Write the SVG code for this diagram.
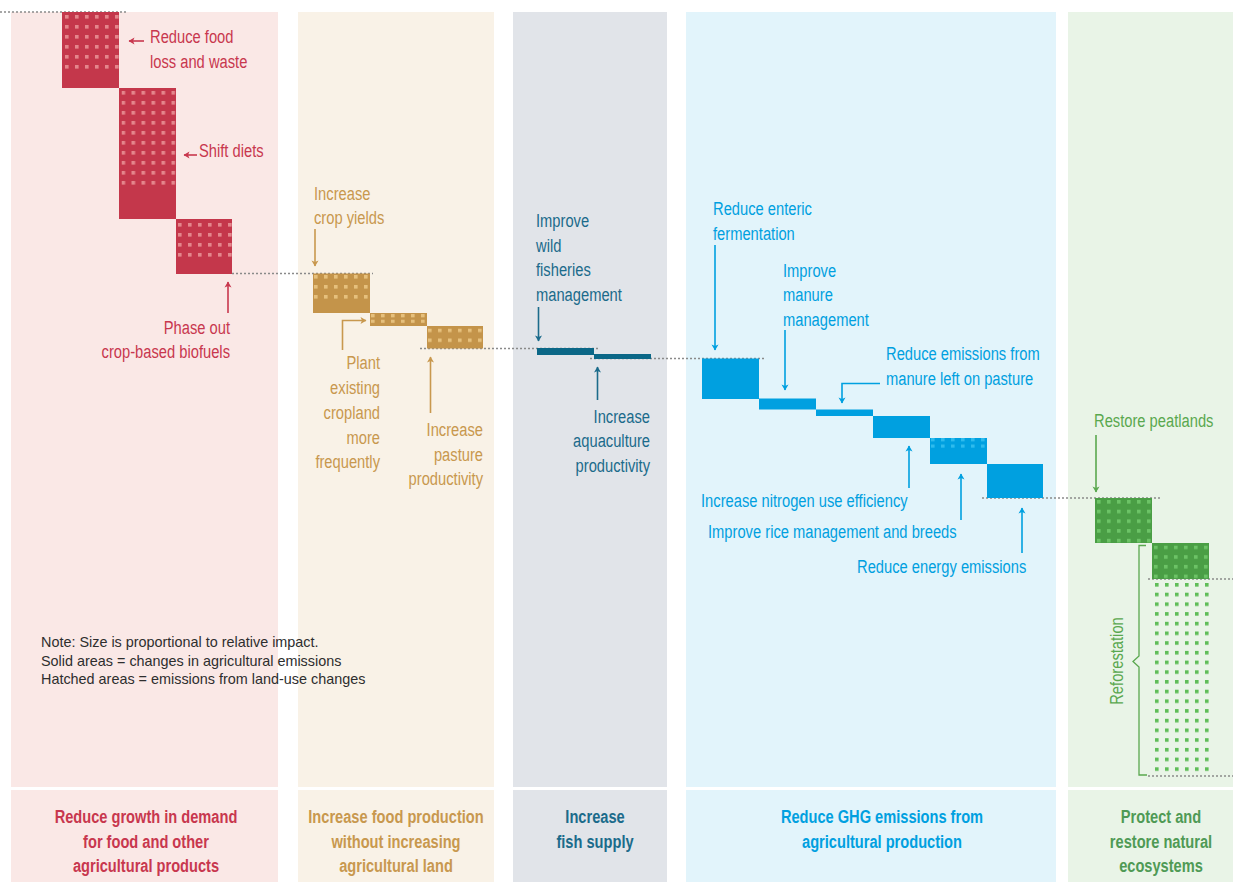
<svg xmlns="http://www.w3.org/2000/svg" width="1233" height="882" viewBox="0 0 1233 882">
<style>
.lbl{font-family:"Liberation Sans",Arial,sans-serif;font-size:19px}
.ft{font-family:"Liberation Sans",Arial,sans-serif;font-size:19px;font-weight:bold;text-anchor:middle}
.end{text-anchor:end}
.note{font-family:"Liberation Sans",Arial,sans-serif;font-size:14.4px;fill:#2e2e2e}
.red{fill:#c8374e}.gold{fill:#c8984e}.teal{fill:#1b6b8b}.blue{fill:#00a0e0}.green{fill:#5aa84f}.dgreen{fill:#4f9a55}
.guide{stroke:#8a8a8a;stroke-width:1.4;stroke-dasharray:2 2;fill:none}
.ar{fill:none;stroke-width:1.6}
.aR{stroke:#c8374e;marker-end:url(#mR)}
.aG{stroke:#c8984e;marker-end:url(#mG)}
.aT{stroke:#1b6b8b;marker-end:url(#mT)}
.aB{stroke:#00a0e0;marker-end:url(#mB)}
.aN{stroke:#5aa84f;marker-end:url(#mN)}
</style>
<defs>
<marker id="mR" viewBox="-6 -4 8 8" refX="0" refY="0" markerWidth="8" markerHeight="8" markerUnits="userSpaceOnUse" orient="auto"><path d="M-5.5,-3.5 L0.5,0 L-5.5,3.5 L-4,0 z" fill="#c8374e"/></marker>
<marker id="mG" viewBox="-6 -4 8 8" refX="0" refY="0" markerWidth="8" markerHeight="8" markerUnits="userSpaceOnUse" orient="auto"><path d="M-5.5,-3.5 L0.5,0 L-5.5,3.5 L-4,0 z" fill="#c8984e"/></marker>
<marker id="mT" viewBox="-6 -4 8 8" refX="0" refY="0" markerWidth="8" markerHeight="8" markerUnits="userSpaceOnUse" orient="auto"><path d="M-5.5,-3.5 L0.5,0 L-5.5,3.5 L-4,0 z" fill="#1b6b8b"/></marker>
<marker id="mB" viewBox="-6 -4 8 8" refX="0" refY="0" markerWidth="8" markerHeight="8" markerUnits="userSpaceOnUse" orient="auto"><path d="M-5.5,-3.5 L0.5,0 L-5.5,3.5 L-4,0 z" fill="#00a0e0"/></marker>
<marker id="mN" viewBox="-6 -4 8 8" refX="0" refY="0" markerWidth="8" markerHeight="8" markerUnits="userSpaceOnUse" orient="auto"><path d="M-5.5,-3.5 L0.5,0 L-5.5,3.5 L-4,0 z" fill="#5aa84f"/></marker>
<pattern id="hR" width="10" height="10" patternUnits="userSpaceOnUse"><rect width="3.6" height="3.6" fill="#e4868c"/></pattern>
<pattern id="hG" width="10" height="10" patternUnits="userSpaceOnUse"><rect width="3.6" height="3.6" fill="#e6c07c"/></pattern>
<pattern id="hB" width="10" height="10" patternUnits="userSpaceOnUse"><rect width="3.6" height="3.6" fill="#2ebbed"/></pattern>
<pattern id="hN" width="10" height="9.7" patternUnits="userSpaceOnUse"><rect width="3.6" height="3.6" fill="#6cc366"/></pattern>
<pattern id="hN2" width="10" height="9.7" patternUnits="userSpaceOnUse"><rect width="3.6" height="3.6" fill="#5fbd58"/></pattern>
</defs>

<g id="panels">
<rect x="11" y="12" width="267" height="775" fill="#fae8e6"/>
<rect x="298" y="12" width="196" height="775" fill="#f9f2e7"/>
<rect x="513" y="12" width="154" height="775" fill="#e1e4e9"/>
<rect x="686" y="12" width="370" height="775" fill="#e2f4fb"/>
<rect x="1068" y="12" width="165" height="775" fill="#e9f4e7"/>
<rect x="11" y="790" width="267" height="92" fill="#fae8e6"/>
<rect x="298" y="790" width="196" height="92" fill="#f9f2e7"/>
<rect x="513" y="790" width="154" height="92" fill="#e1e4e9"/>
<rect x="686" y="790" width="370" height="92" fill="#e2f4fb"/>
<rect x="1068" y="790" width="165" height="92" fill="#e9f4e7"/>
</g>

<g id="guides">
<path class="guide" d="M0,12H127"/>
<path class="guide" d="M232,273.5H373"/>
<path class="guide" d="M420,348.5H598"/>
<path class="guide" d="M590,358.5H765"/>
<path class="guide" d="M982,498H1160"/>
<path class="guide" d="M1148,579H1233"/>
<path class="guide" d="M1148,776H1233"/>
</g>

<g id="n-food-loss">
<rect x="62" y="12" width="57" height="76" fill="#c4374b"/>
<rect x="0" y="0" width="54" height="56" fill="url(#hR)" transform="translate(65,15)"/>
<text class="lbl red" transform="translate(150,43) scale(.775 1)">Reduce food</text>
<text class="lbl red" transform="translate(150,68) scale(.775 1)">loss and waste</text>
</g>
<g id="n-shift-diets">
<rect x="119" y="88" width="57" height="131" fill="#c4374b"/>
<rect x="0" y="0" width="54" height="96" fill="url(#hR)" transform="translate(121.5,91)"/>
<text class="lbl red" transform="translate(199,157) scale(.775 1)">Shift diets</text>
</g>
<g id="n-biofuels">
<rect x="176" y="219" width="56" height="55" fill="#c4374b"/>
<rect x="0" y="0" width="54" height="36" fill="url(#hR)" transform="translate(178,223)"/>
<text class="lbl red end" transform="translate(230,334) scale(.775 1)">Phase out</text>
<text class="lbl red end" transform="translate(230,358) scale(.775 1)">crop-based biofuels</text>
</g>

<g id="n-crop-yields">
<rect x="313" y="273.5" width="57" height="39.5" fill="#c4944a"/>
<rect x="0" y="0" width="56" height="26" fill="url(#hG)" transform="translate(314,275)"/>
<text class="lbl gold" transform="translate(314,200) scale(.775 1)">Increase</text>
<text class="lbl gold" transform="translate(314,224) scale(.775 1)">crop yields</text>
</g>
<g id="n-plant">
<rect x="370" y="313" width="57" height="13" fill="#c4944a"/>
<rect x="0" y="0" width="55" height="3.6" fill="url(#hG)" transform="translate(371,314)"/>
<rect x="0" y="0" width="55" height="3.6" fill="url(#hG)" transform="translate(371,319.5)"/>
<text class="lbl gold end" transform="translate(380,369) scale(.775 1)">Plant</text>
<text class="lbl gold end" transform="translate(380,394) scale(.775 1)">existing</text>
<text class="lbl gold end" transform="translate(380,419) scale(.775 1)">cropland</text>
<text class="lbl gold end" transform="translate(380,444) scale(.775 1)">more</text>
<text class="lbl gold end" transform="translate(380,468) scale(.775 1)">frequently</text>
</g>
<g id="n-pasture">
<rect x="427" y="326" width="56" height="22.5" fill="#c4944a"/>
<rect x="0" y="0" width="55" height="14" fill="url(#hG)" transform="translate(428,328.5)"/>
<text class="lbl gold end" transform="translate(483,436) scale(.775 1)">Increase</text>
<text class="lbl gold end" transform="translate(483,461) scale(.775 1)">pasture</text>
<text class="lbl gold end" transform="translate(483,485) scale(.775 1)">productivity</text>
</g>

<g id="n-wild-fisheries">
<rect x="537" y="348" width="57" height="7" fill="#0b6787"/>
<text class="lbl teal" transform="translate(536,227) scale(.775 1)">Improve</text>
<text class="lbl teal" transform="translate(536,251.5) scale(.775 1)">wild</text>
<text class="lbl teal" transform="translate(536,276) scale(.775 1)">fisheries</text>
<text class="lbl teal" transform="translate(536,300.5) scale(.775 1)">management</text>
</g>
<g id="n-aquaculture">
<rect x="594" y="354" width="57" height="5" fill="#0b6787"/>
<text class="lbl teal end" transform="translate(650,422.5) scale(.775 1)">Increase</text>
<text class="lbl teal end" transform="translate(650,447) scale(.775 1)">aquaculture</text>
<text class="lbl teal end" transform="translate(650,471.5) scale(.775 1)">productivity</text>
</g>

<g id="n-enteric">
<rect x="702" y="358.5" width="57" height="40.5" fill="#00a0e0"/>
<text class="lbl blue" transform="translate(713,215) scale(.775 1)">Reduce enteric</text>
<text class="lbl blue" transform="translate(713,240) scale(.775 1)">fermentation</text>
</g>
<g id="n-manure">
<rect x="759" y="398.5" width="57" height="11" fill="#00a0e0"/>
<text class="lbl blue" transform="translate(783,277) scale(.775 1)">Improve</text>
<text class="lbl blue" transform="translate(783,301) scale(.775 1)">manure</text>
<text class="lbl blue" transform="translate(783,326) scale(.775 1)">management</text>
</g>
<g id="n-manure-pasture">
<rect x="816" y="409.5" width="57" height="6.5" fill="#00a0e0"/>
<text class="lbl blue" transform="translate(886,360) scale(.775 1)">Reduce emissions from</text>
<text class="lbl blue" transform="translate(886,385) scale(.775 1)">manure left on pasture</text>
</g>
<g id="n-nitrogen">
<rect x="873" y="416" width="57" height="22" fill="#00a0e0"/>
<text class="lbl blue" transform="translate(701,507) scale(.775 1)">Increase nitrogen use efficiency</text>
</g>
<g id="n-rice">
<rect x="930" y="438" width="57" height="26" fill="#00a0e0"/>
<rect x="0" y="0" width="55" height="3.6" fill="url(#hB)" transform="translate(931,438)"/>
<rect x="0" y="0" width="55" height="3.6" fill="url(#hB)" transform="translate(931,444.3)"/>
<text class="lbl blue" transform="translate(708,538) scale(.775 1)">Improve rice management and breeds</text>
</g>
<g id="n-energy">
<rect x="987" y="464" width="56" height="34" fill="#00a0e0"/>
<text class="lbl blue" transform="translate(857,573) scale(.775 1)">Reduce energy emissions</text>
</g>

<g id="n-peatlands">
<rect x="1095" y="498" width="57" height="45" fill="#4a9e45"/>
<rect x="0" y="0" width="55" height="43" fill="url(#hN)" transform="translate(1097,500)"/>
<text class="lbl green" transform="translate(1094,427) scale(.775 1)">Restore peatlands</text>
</g>
<g id="n-reforestation">
<rect x="1152" y="543" width="57" height="36" fill="#4a9e45"/>
<rect x="0" y="0" width="55" height="33" fill="url(#hN)" transform="translate(1154,545.5)"/>
<rect x="0" y="0" width="55" height="189" fill="url(#hN2)" transform="translate(1155,583)"/>
<text class="lbl green" text-anchor="middle" transform="translate(1122.5,661) rotate(-90) scale(.775 1)">Reforestation</text>
</g>

<g id="connectors">
<path class="ar aR" d="M144,41H129"/>
<path class="ar aR" d="M197,155H184"/>
<path class="ar aR" d="M228,313V282"/>
<path class="ar aG" d="M315,229V266"/>
<path class="ar aG" d="M342.5,350V320.5H366"/>
<path class="ar aG" d="M430.5,413V357"/>
<path class="ar aT" d="M538.5,307V341"/>
<path class="ar aT" d="M597.5,400V367"/>
<path class="ar aB" d="M715,245V350"/>
<path class="ar aB" d="M785,330V390"/>
<path class="ar aB" d="M880,383.5H842V403"/>
<path class="ar aB" d="M909,488V446"/>
<path class="ar aB" d="M961,520V474"/>
<path class="ar aB" d="M1022,553V508"/>
<path class="ar aN" d="M1096,435V492"/>
<path d="M1146,545.5H1139V656L1133,661.5L1139,667V775H1147" fill="none" stroke="#5aa84f" stroke-width="1.3"/>
</g>

<g id="note">
<text class="note" x="41" y="647">Note: Size is proportional to relative impact.</text>
<text class="note" x="41" y="666">Solid areas = changes in agricultural emissions</text>
<text class="note" x="41" y="684">Hatched areas = emissions from land-use changes</text>
</g>

<g id="footers">
<text class="ft red" transform="translate(146,823) scale(.77 1)">Reduce growth in demand</text>
<text class="ft red" transform="translate(146,848) scale(.77 1)">for food and other</text>
<text class="ft red" transform="translate(146,872) scale(.77 1)">agricultural products</text>
<text class="ft gold" transform="translate(396,823) scale(.77 1)">Increase food production</text>
<text class="ft gold" transform="translate(396,848) scale(.77 1)">without increasing</text>
<text class="ft gold" transform="translate(396,872) scale(.77 1)">agricultural land</text>
<text class="ft teal" transform="translate(595,823) scale(.77 1)">Increase</text>
<text class="ft teal" transform="translate(595,848) scale(.77 1)">fish supply</text>
<text class="ft blue" transform="translate(882,823) scale(.77 1)">Reduce GHG emissions from</text>
<text class="ft blue" transform="translate(882,848) scale(.77 1)">agricultural production</text>
<text class="ft dgreen" transform="translate(1161,823) scale(.77 1)">Protect and</text>
<text class="ft dgreen" transform="translate(1161,848) scale(.77 1)">restore natural</text>
<text class="ft dgreen" transform="translate(1161,872) scale(.77 1)">ecosystems</text>
</g>
</svg>
